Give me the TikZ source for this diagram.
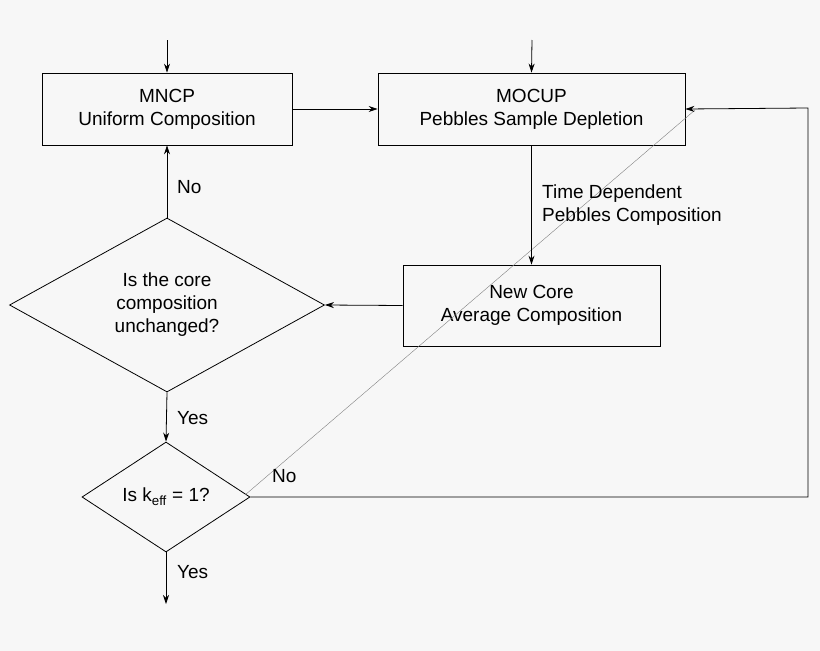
\documentclass[tikz,border=0pt]{standalone}
\usepackage{fontspec}
\setmainfont{Liberation Sans}
\usetikzlibrary{shapes.geometric,arrows.meta}
\definecolor{bg}{HTML}{F7F7F7}
\begin{document}
\begin{tikzpicture}[x=1pt,y=-1pt,
  every node/.style={font=\fontsize{19}{23}\selectfont},
  box/.style={draw,thick,inner sep=0pt},
  arr/.style={thick,-{Stealth[length=9pt,width=6pt]}},
  lab/.style={anchor=west,inner sep=0pt}]
\fill[bg] (0,0) rectangle (820,651);
\useasboundingbox (0,0) rectangle (820,651);
\node[box,minimum width=250pt,minimum height=72pt,align=center] (mncp) at (167,109) {MNCP\\Uniform Composition};
\node[box,minimum width=307pt,minimum height=72pt,align=center] (mocup) at (531.5,109) {MOCUP\\Pebbles Sample Depletion};
\node[box,minimum width=257pt,minimum height=81pt,align=center] (core) at (531.5,305.5) {New Core\\Average Composition};
\node[box,diamond,minimum width=315pt,minimum height=174pt,align=center] (d1) at (167,305) {Is the core\\composition\\unchanged?};
\node[box,diamond,minimum width=168pt,minimum height=110pt] (d2) at (166,497) {Is k\textsubscript{eff} = 1?};
\coordinate (in1) at (167,40);
\coordinate (in2) at (532,40);
\coordinate (out) at (166,604);
\coordinate (c1) at (808,497);
\coordinate (c2) at (808,108);
\draw[gray,thin] (695,110) -- (245,495);
\draw[arr] (in1) -- (mncp.north);
\draw[arr] (in2) -- (mocup.north);
\draw[arr] (mncp.east) -- (mocup.west);
\draw[arr] (mocup.south) -- (core.north);
\draw[arr] (core.west) -- (d1.east);
\draw[arr] (d1.north) -- (mncp.south);
\draw[arr] (d1.south) -- (d2.north);
\draw[arr] (d2.east) -- (c1) -- (c2) -- (mocup.east);
\draw[arr] (d2.south) -- (out);
\node[lab,align=left] (t1) at (542,205) {Time Dependent\\Pebbles Composition};
\node[lab] (no1) at (177,187) {No};
\node[lab] (yes1) at (177,418) {Yes};
\node[lab] (no2) at (272,476) {No};
\node[lab] (yes2) at (177,572) {Yes};
\end{tikzpicture}
\end{document}
